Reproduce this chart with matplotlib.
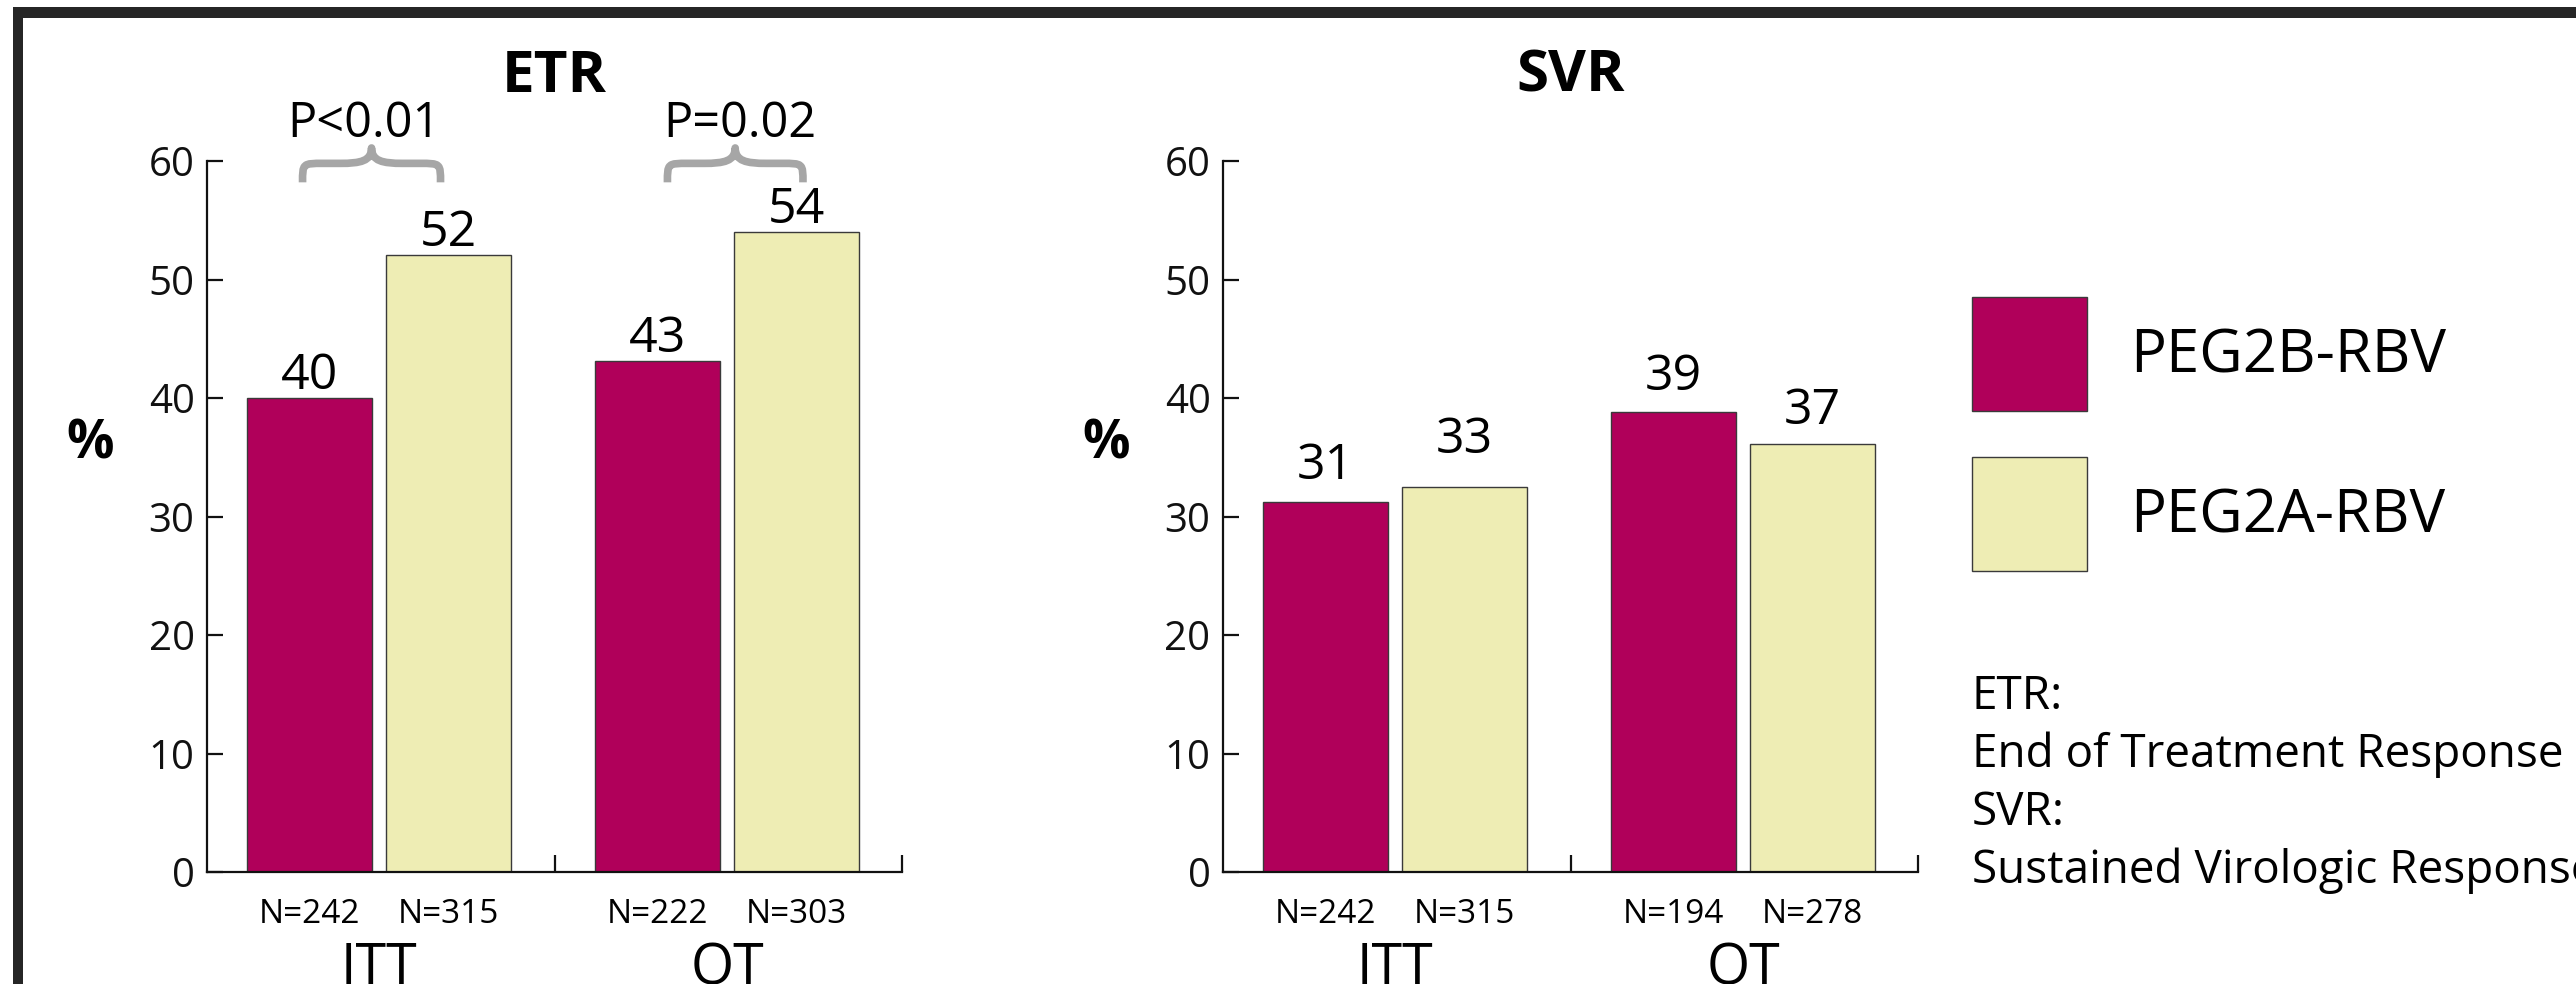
import matplotlib
matplotlib.use('Agg')
import matplotlib.pyplot as plt
from matplotlib.patches import Rectangle, PathPatch
from matplotlib.path import Path
import numpy as np

plt.rcParams['font.family'] = ['Open Sans', 'DejaVu Sans']

# ---------------- data ----------------
groups = ['ITT', 'OT']
series = ['PEG2B-RBV', 'PEG2A-RBV']

etr_peg2b = [40.0, 43.1]
etr_peg2a = [52.1, 54.0]
etr_lbl_2b = ['40', '43']
etr_lbl_2a = ['52', '54']
etr_n_2b = ['N=242', 'N=222']
etr_n_2a = ['N=315', 'N=303']
etr_p = ['P<0.01', 'P=0.02']

svr_peg2b = [31.2, 38.8]
svr_peg2a = [32.5, 36.1]
svr_lbl_2b = ['31', '39']
svr_lbl_2a = ['33', '37']
svr_n_2b = ['N=242', 'N=194']
svr_n_2a = ['N=315', 'N=278']

yticks = [0, 10, 20, 30, 40, 50, 60]
notes = ['ETR:', 'End of Treatment Response', 'SVR:', 'Sustained Virologic Response']

# ---------------- style / layout ----------------
C_B = '#B0005A'
C_A = '#EEEDB4'
EDGE = '#3a3a3a'
BRACE = '#A6A6A6'
W, H = 2576, 984
group_x = np.array([0.495, 1.497])
off, bw = 0.2, 0.36

fig = plt.figure(figsize=(W / 100, H / 100), dpi=100)
fig.patch.set_facecolor('white')


def fy(py):
    return 1 - py / H


def setup_axis(ax):
    ax.set_xlim(0, 2)
    ax.set_ylim(0, 60)
    for s in ['top', 'right']:
        ax.spines[s].set_visible(False)
    for s in ['left', 'bottom']:
        ax.spines[s].set_linewidth(1.6)
        ax.spines[s].set_color('#111111')
    ax.set_yticks(yticks)
    ax.tick_params(axis='y', direction='in', length=11.5, width=1.6,
                   labelsize=29, pad=9, colors='#111111')
    ax.set_xticks([1, 2])
    ax.tick_params(axis='x', direction='in', length=12, width=1.6,
                   labelbottom=False, colors='#111111')
    ax.patch.set_alpha(0)


def draw_panel(ax, title, v2b, v2a, l2b, l2a, n2b, n2a, lo2b, lo2a):
    setup_axis(ax)
    b1 = ax.bar(group_x - off, v2b, bw, color=C_B, edgecolor=EDGE, linewidth=1.0,
                label=series[0])
    b2 = ax.bar(group_x + off, v2a, bw, color=C_A, edgecolor=EDGE, linewidth=1.0,
                label=series[1])
    for x, v, t, o in zip(group_x - off, v2b, l2b, lo2b):
        ax.text(x, v + o, t, ha='center', va='baseline', fontsize=36)
    for x, v, t, o in zip(group_x + off, v2a, l2a, lo2a):
        ax.text(x, v + o, t, ha='center', va='baseline', fontsize=36)
    for x, t in zip(group_x - off, n2b):
        ax.annotate(t, xy=(x, 0), xycoords=('data', 'axes fraction'), xytext=(0, -36.7),
                    textcoords='offset points', ha='center', va='baseline', fontsize=24,
                    annotation_clip=False)
    for x, t in zip(group_x + off, n2a):
        ax.annotate(t, xy=(x, 0), xycoords=('data', 'axes fraction'), xytext=(0, -36.7),
                    textcoords='offset points', ha='center', va='baseline', fontsize=24,
                    annotation_clip=False)
    for x, g in zip(group_x, groups):
        ax.annotate(g, xy=(x, 0), xycoords=('data', 'axes fraction'), xytext=(0, -81),
                    textcoords='offset points', ha='center', va='baseline', fontsize=40,
                    annotation_clip=False)
    ax.annotate('%', xy=(0, 36.1), xycoords=('axes fraction', 'data'), xytext=(-84, 0),
                textcoords='offset points', ha='center', va='center', fontsize=38,
                fontweight='bold', annotation_clip=False)
    ax.set_title(title, fontsize=42, fontweight='bold', pad=50, y=1.0)
    return b1, b2


def draw_brace(ax, x0, x1, y_end=58.2, y_flat=59.8, y_tip=61.1):
    xm = (x0 + x1) / 2
    dc = 0.06
    dt = 0.09
    verts = [
        (x0, y_end),
        (x0, y_flat), (x0, y_flat), (x0 + dc, y_flat),
        (xm - dt, y_flat),
        (xm - dt * 0.35, y_flat), (xm, y_flat + 0.2), (xm, y_tip),
        (xm, y_flat + 0.2), (xm + dt * 0.35, y_flat), (xm + dt, y_flat),
        (x1 - dc, y_flat),
        (x1, y_flat), (x1, y_flat), (x1, y_end),
    ]
    codes = [Path.MOVETO,
             Path.CURVE4, Path.CURVE4, Path.CURVE4,
             Path.LINETO,
             Path.CURVE4, Path.CURVE4, Path.CURVE4,
             Path.CURVE4, Path.CURVE4, Path.CURVE4,
             Path.LINETO,
             Path.CURVE4, Path.CURVE4, Path.CURVE4]
    patch = PathPatch(Path(verts, codes), facecolor='none', edgecolor=BRACE,
                      linewidth=5.5, clip_on=False, capstyle='butt', joinstyle='round')
    ax.add_patch(patch)


ax1 = fig.add_axes([207 / W, 112 / H, 695 / W, 711 / H])
ax2 = fig.add_axes([1223 / W, 112 / H, 695 / W, 711 / H])

h1, h2 = draw_panel(ax1, 'ETR', etr_peg2b, etr_peg2a, etr_lbl_2b, etr_lbl_2a,
                    etr_n_2b, etr_n_2a, [0.8, 0.8], [0.7, 0.8])
draw_panel(ax2, 'SVR', svr_peg2b, svr_peg2a, svr_lbl_2b, svr_lbl_2a,
           svr_n_2b, svr_n_2a, [2.0, 1.9], [2.9, 1.7])

# significance braces on ETR panel
brace_spans = [(0.275, 0.672), (1.325, 1.715)]
p_x = [0.452, 1.534]
for (x0, x1), px, p in zip(brace_spans, p_x, etr_p):
    draw_brace(ax1, x0, x1)
    ax1.text(px, 62.0, p, ha='center', va='baseline', fontsize=35, clip_on=False)

# legend (square keys)
leg_fs_pt = 43
leg_fs_px = leg_fs_pt * 100 / 72
fig.legend([h1, h2], series, loc='upper left',
           bbox_to_anchor=(1972 / W, fy(297)),
           bbox_transform=fig.transFigure, frameon=False, fontsize=leg_fs_pt,
           handlelength=1.93, handleheight=2.56, handletextpad=0.72,
           labelspacing=46 / leg_fs_px, borderpad=0, borderaxespad=0)

# notes
for t, py in zip(notes, [709, 767, 825, 883]):
    fig.text(1972 / W, fy(py), t, fontsize=33, va='baseline', ha='left')

# slide frame (thick border)
fig.add_artist(Rectangle((13 / W, fy(18)), 1.0, 11 / H, transform=fig.transFigure,
                         facecolor='#262626', edgecolor='none'))
fig.add_artist(Rectangle((13 / W, 0), 10 / W, fy(18), transform=fig.transFigure,
                         facecolor='#262626', edgecolor='none'))

fig.savefig('out.png', dpi=100)
